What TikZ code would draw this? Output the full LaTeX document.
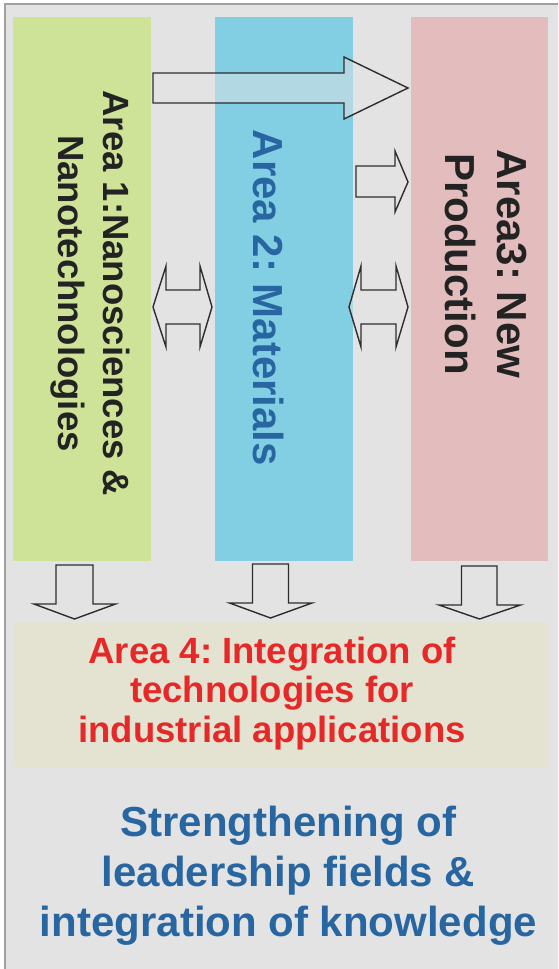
\documentclass[tikz,border=0pt]{standalone}
\usepackage{fontspec}
\setmainfont{Liberation Sans}
\frenchspacing
\definecolor{bgc}{RGB}{227,227,227}
\definecolor{framec}{RGB}{160,160,160}
\definecolor{greenc}{RGB}{207,227,152}
\definecolor{bluec}{RGB}{130,207,227}
\definecolor{pinkc}{RGB}{227,188,189}
\definecolor{beigec}{RGB}{228,226,208}
\definecolor{darktext}{RGB}{35,35,35}
\definecolor{bluetext}{RGB}{40,102,162}
\definecolor{redtext}{RGB}{230,40,40}
\definecolor{arrowc}{RGB}{45,45,45}
\begin{document}
\begin{tikzpicture}[x=1pt,y=-1pt,
  areabox/.style={draw=none, inner sep=0pt, minimum height=544pt},
  blockarrow/.style={draw=arrowc, line width=1.4pt, line join=miter, fill=bgc, fill opacity=0.5},
  vlabel/.style={rotate=-90, anchor=base, inner sep=0pt, font=\bfseries},
]
\useasboundingbox (0,0) rectangle (558,969);
\fill[white] (0,0) rectangle (558,969);
\fill[bgc] (5,4) rectangle (558,969);
\draw[framec, line width=1.5pt] (5,969) -- (5,4) -- (558,4);

% area boxes
\node[areabox, fill=greenc, minimum width=138pt] (a1) at (82,289) {};
\node[areabox, fill=bluec, minimum width=138pt] (a2) at (284,289) {};
\node[areabox, fill=pinkc, minimum width=137pt] (a3) at (479.5,289) {};
\node[draw=none, inner sep=0pt, fill=beigec, minimum width=535pt, minimum height=145pt] (a4) at (280.5,694.5) {};

% labels
\node[vlabel, text=darktext, font=\bfseries\fontsize{36.5}{45}\selectfont\frenchspacing] (t1) at (103,293.5)
  {\begin{tabular}[t]{@{}c@{}}Area 1:Nanosciences \&\\Nanotechnologies\end{tabular}};
\node[vlabel, text=bluetext, font=\bfseries\fontsize{42}{50}\selectfont\frenchspacing] (t2) at (253,298)
  {Area 2: Materials};
\node[vlabel, text=darktext, font=\bfseries\fontsize{42}{52}\selectfont\frenchspacing] (t3) at (497,264)
  {\begin{tabular}[t]{@{}c@{}}Area3: New\\Production\end{tabular}};
\node[anchor=base, inner sep=0pt, text=redtext, font=\bfseries\fontsize{36.5}{39.5}\selectfont\frenchspacing] (t4) at (272,663)
  {\begin{tabular}[t]{@{}c@{}}Area 4: Integration of\\technologies for\\industrial applications\end{tabular}};
\node[anchor=base, inner sep=0pt, text=bluetext, font=\bfseries\fontsize{42}{50}\selectfont\frenchspacing] (t5) at (288.5,836)
  {\begin{tabular}[t]{@{}c@{}}Strengthening of\\leadership fields \&\\integration of knowledge\end{tabular}};

% arrows
\draw[blockarrow] (153,73) -- (344,73) -- (344,57) -- (408,88) -- (344,119) -- (344,103) -- (153,103) -- cycle;
\draw[blockarrow] (356,166) -- (395,166) -- (395,151) -- (408,182) -- (395,212) -- (395,197) -- (356,197) -- cycle;
\draw[blockarrow] (153,307) -- (166,266) -- (166,290) -- (200,290) -- (200,266) -- (212,307) -- (200,347) -- (200,324) -- (166,324) -- (166,347) -- cycle;
\draw[blockarrow] (349,307) -- (361,266) -- (361,290) -- (396,290) -- (396,266) -- (408,307) -- (396,347) -- (396,324) -- (361,324) -- (361,347) -- cycle;
\draw[blockarrow] (56,565) -- (93,565) -- (93,604) -- (115.5,604) -- (74.5,619) -- (34,604) -- (56,604) -- cycle;
\draw[blockarrow] (252.5,564) -- (288.5,564) -- (288.5,603) -- (312,603) -- (270.5,618) -- (229.5,603) -- (252.5,603) -- cycle;
\draw[blockarrow] (461.5,566) -- (497,566) -- (497,605) -- (520.5,605) -- (479.5,619) -- (439,605) -- (461.5,605) -- cycle;
\end{tikzpicture}
\end{document}
